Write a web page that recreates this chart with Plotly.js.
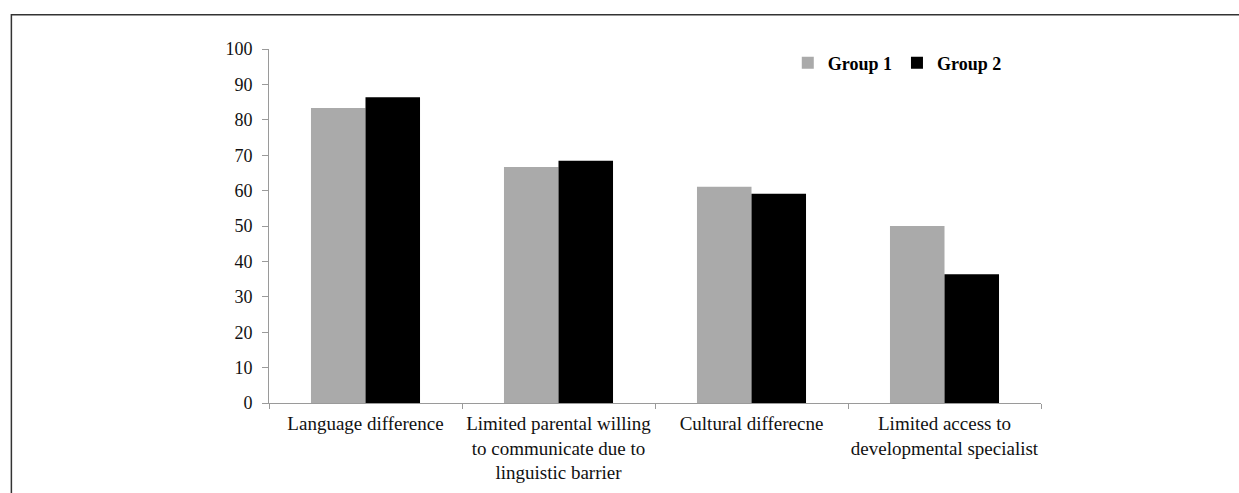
<!DOCTYPE html>
<html>
<head>
<meta charset="utf-8">
<script src="https://cdn.plot.ly/plotly-3.0.1.min.js"></script>
<style>
  html, body { margin: 0; padding: 0; background: #fff; overflow: hidden; }
  #chart { width: 1239px; height: 493px; }
</style>
</head>
<body>
<div id="chart"></div>
<script>
const categories = [
  "Language difference",
  "Limited parental willing<br>to communicate due to<br>linguistic barrier",
  "Cultural differecne",
  "Limited access to<br>developmental specialist"
];
const group1 = [83.3, 66.7, 61.1, 50.0];
const group2 = [86.4, 68.4, 59.1, 36.4];
const yTicks = [0, 10, 20, 30, 40, 50, 60, 70, 80, 90, 100];

const serif = "Liberation Serif";

const traces = [
  {
    type: "bar", name: "Group 1", x: categories, y: group1,
    marker: { color: "#aaaaaa", line: { width: 0 } },
    hoverinfo: "skip"
  },
  {
    type: "bar", name: "Group 2", x: categories, y: group2,
    marker: { color: "#000000", line: { width: 0 } },
    hoverinfo: "skip"
  }
];

const layout = {
  width: 1239, height: 493,
  font: { family: serif, color: "#111" },
  margin: { l: 269, r: 198, t: 49, b: 90.3 },
  paper_bgcolor: "#ffffff", plot_bgcolor: "#ffffff",
  barmode: "group",
  bargap: 0.435,
  bargroupgap: 0,
  showlegend: true,
  legend: {
    orientation: "h",
    x: 0.672, xanchor: "left",
    y: 0.96, yanchor: "middle",
    font: { family: serif, size: 18, color: "#000", weight: "bold" },
    bgcolor: "rgba(0,0,0,0)",
    traceorder: "normal"
  },
  xaxis: {
    type: "category",
    showline: true, linecolor: "#9a9a9a", linewidth: 1,
    ticks: "outside", tickson: "boundaries", ticklen: 5, tickcolor: "#9a9a9a",
    ticklabelstandoff: 3,
    tickangle: 0,
    tickfont: { family: serif, size: 19, color: "#111" },
    showgrid: false, zeroline: false, fixedrange: true
  },
  yaxis: {
    range: [0, 100],
    tickvals: yTicks,
    ticktext: yTicks.map(String),
    showline: true, linecolor: "#9a9a9a", linewidth: 1,
    ticks: "outside", ticklen: 6, tickcolor: "#9a9a9a",
    ticklabelstandoff: 6,
    tickfont: { family: serif, size: 18, color: "#111" },
    showgrid: false, zeroline: false, fixedrange: true
  },
  shapes: [
    {
      type: "rect", xref: "paper", yref: "paper",
      x0: -0.3337, x1: 1.3, y0: 1.097, y1: -0.4,
      line: { color: "#333333", width: 1.5 },
      fillcolor: "rgba(0,0,0,0)", layer: "below"
    }
  ]
};

Plotly.newPlot("chart", traces, layout, { displayModeBar: false, staticPlot: true });
</script>
</body>
</html>
